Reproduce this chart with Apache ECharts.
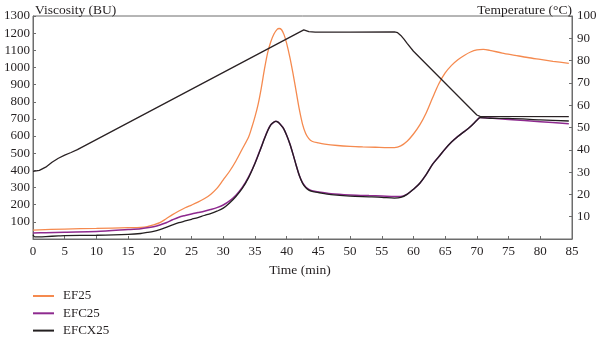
<!DOCTYPE html>
<html><head><meta charset="utf-8">
<script src="https://cdn.jsdelivr.net/npm/echarts@6/dist/echarts.min.js"></script>
<style>html,body{margin:0;padding:0;background:#fff}#c{width:600px;height:339px}</style>
</head><body><div id="c"></div>
<script>
var xTicks = [0,5,10,15,20,25,30,35,40,45,50,55,60,65,70,75,80,85];
var seriesNames = ['EF25','EFC25','EFCX25'];

var tEF25 = [0,5,10,15,17,18,19,20,21,22,23,24,25,26,27,28,29,30,31,32,33,34,34.5,35,35.5,36,36.5,37,37.5,38,38.5,38.8,39.2,39.6,40,40.5,41,41.5,42,42.5,43,43.5,44,45,46,48,50,52,54,56,57,58,59,60,61,62,63,64,65,66,67,68,69,70,71,72,74,76,78,80,82,84.5];
var vEF25 = [52,58,62,66,68,72,82,95,118,142,163,182,198,215,235,260,295,345,395,455,525,595,650,712,785,880,990,1085,1150,1195,1222,1227,1220,1190,1140,1060,965,860,755,670,615,585,570,560,553,545,540,537,535,533,533,543,570,612,665,735,822,905,968,1012,1045,1070,1090,1102,1105,1100,1084,1071,1058,1047,1036,1024];

var tEFC25 = [0,2,5,10,15,17,18,19,20,21,22,23,24,25,26,27,28,29,30,31,32,33,34,35,36,36.5,37,37.5,38,38.3,38.7,39,39.5,40,40.5,41,41.5,42,42.5,43,43.5,44,45,47,50,53,55,57,58,59,60,61,62,63,64,65,66,67,68,69,70,70.5,72,75,80,84.5];
var vEFC25 = [35,37,40,44,55,60,65,72,82,95,112,127,137,146,154,162,172,183,198,222,255,300,362,442,537,587,632,666,682,686,680,668,645,605,555,495,430,370,328,303,289,281,274,264,257,253,251,248,248,262,290,325,375,435,480,525,565,598,626,656,692,708,705,697,684,672];

var tEFCX25 = [0,0.3,2,4,5,10,15,17,18,19,20,21,22,23,24,25,26,27,28,29,30,31,32,33,34,35,36,36.5,37,37.5,38,38.3,38.7,39,39.5,40,40.5,41,41.5,42,42.5,43,43.5,44,45,47,50,53,55,57,58,59,60,61,62,63,64,65,66,67,68,69,70,70.5,72,75,80,84.5];
var vEFCX25 = [25,12,14,18,20,22,27,32,38,45,55,68,82,95,105,115,125,137,148,162,180,210,248,295,358,440,535,585,630,665,682,686,680,668,645,605,555,495,430,370,326,300,285,278,271,259,250,246,243,238,242,260,290,325,375,435,480,525,565,598,626,656,692,708,704,703,695,688];

var tTemp = [0,1,2,3,4,5,6,7,42.7,43.5,44.5,50,57,57.5,58,58.5,59,60,70,70.5,84.5];
var vTemp = [30.3,30.8,32.2,34.4,36.2,37.6,38.8,40.1,93.8,93.0,92.8,92.8,92.9,92.5,91.3,89.6,87.7,84.2,55.6,55.0,54.9];

function pairs(t, v){ return t.map(function(x,i){ return [x, v[i]]; }); }

var font = 'Liberation Serif';
var txt = '#231f20';
var axisCol = '#6d6d6d';
var chart = echarts.init(document.getElementById('c'));
chart.setOption({
  animation: false,
  backgroundColor: '#fff',
  textStyle: {fontFamily: font, color: txt},
  grid: {left: 33, right: 28, top: 16, bottom: 100, show: true, borderColor: axisCol, borderWidth: 1},
  title: [
    {text: 'Viscosity (BU)', left: 30, top: -2, textStyle: {fontFamily: font, fontSize: 13.5, fontWeight: 'normal', color: txt}},
    {text: 'Temperature (°C)', right: 23, top: -2, textStyle: {fontFamily: font, fontSize: 13.5, fontWeight: 'normal', color: txt}},
    {text: 'Time (min)', left: 'center', top: 258, textStyle: {fontFamily: font, fontSize: 13.5, fontWeight: 'normal', color: txt}}
  ],
  legend: {
    orient: 'vertical', left: 33, top: 289.5, padding: 0, itemWidth: 21, itemHeight: 2, itemGap: 4.3, icon: 'rect',
    data: seriesNames,
    textStyle: {fontFamily: font, fontSize: 13, color: txt, padding: [0,0,0,4]}
  },
  xAxis: {
    type: 'value', min: 0, max: 85, interval: 5,
    axisLine: {lineStyle: {color: axisCol}},
    axisTick: {inside: true, length: 3, lineStyle: {color: axisCol}},
    axisLabel: {fontFamily: font, fontSize: 13, color: txt, margin: 6,
      formatter: function(v){ return xTicks.indexOf(v) >= 0 ? String(v) : ''; }},
    splitLine: {show: false}
  },
  yAxis: [
    {type: 'value', min: 0, max: 1300, interval: 100, position: 'left',
     axisLine: {show: true, lineStyle: {color: axisCol}},
     axisTick: {show: true, inside: true, length: 3, lineStyle: {color: axisCol}},
     axisLabel: {fontFamily: font, fontSize: 13, color: txt, margin: 3,
       formatter: function(v){ return v === 0 ? '' : String(v); }},
     splitLine: {show: false}},
    {type: 'value', min: 0, max: 100, interval: 10, position: 'right',
     axisLine: {show: true, lineStyle: {color: axisCol}},
     axisTick: {show: true, inside: true, length: 3, lineStyle: {color: axisCol}},
     axisLabel: {fontFamily: font, fontSize: 13, color: txt, margin: 5,
       formatter: function(v){ return v === 0 ? '' : String(v); }},
     splitLine: {show: false}}
  ],
  series: [
    {name: 'EF25', type: 'line', data: pairs(tEF25, vEF25), showSymbol: false, smooth: 0.3,
     lineStyle: {color: '#f58a4f', width: 1.3}, itemStyle: {color: '#f58a4f'}},
    {name: 'EFC25', type: 'line', data: pairs(tEFC25, vEFC25), showSymbol: false, smooth: 0.3,
     lineStyle: {color: '#8e2a8f', width: 1.5}, itemStyle: {color: '#8e2a8f'}},
    {name: 'EFCX25', type: 'line', data: pairs(tEFCX25, vEFCX25), showSymbol: false, smooth: 0.3,
     lineStyle: {color: '#231f20', width: 1.3}, itemStyle: {color: '#231f20'}},
    {name: 'Temperature', type: 'line', yAxisIndex: 1, data: pairs(tTemp, vTemp), showSymbol: false, smooth: false,
     lineStyle: {color: '#2a2224', width: 1.3}, itemStyle: {color: '#2a2224'}}
  ]
});
</script></body></html>
